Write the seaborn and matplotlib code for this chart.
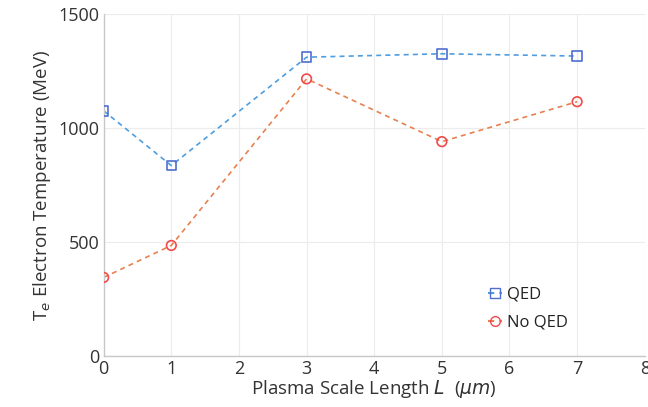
import matplotlib
matplotlib.use("Agg")
import matplotlib.pyplot as plt
import seaborn as sns
import pandas as pd
from matplotlib.lines import Line2D

# Electron temperature vs plasma scale length
scale_length = [0, 1, 3, 5, 7]
te_qed = [1075, 835, 1310, 1325, 1315]
te_no_qed = [345, 485, 1215, 940, 1115]

df = pd.concat([
    pd.DataFrame({"L": scale_length, "Te": te_qed, "case": "QED"}),
    pd.DataFrame({"L": scale_length, "Te": te_no_qed, "case": "No QED"}),
])

sns.set_theme(style="whitegrid")
plt.rcParams["font.family"] = ["Open Sans", "DejaVu Sans"]

fig = plt.figure(figsize=(6.48, 4.07), dpi=100)
ax = fig.add_axes([0.160, 0.125, 0.835, 0.841])

line_colors = {"QED": "#4d9de0", "No QED": "#e8804f"}
marker_colors = {"QED": "#4f6fd0", "No QED": "#f24a4a"}
markers = {"QED": "s", "No QED": "o"}
dash = (0, (3, 2.5))

for case in ["QED", "No QED"]:
    sub = df[df["case"] == case]
    sns.lineplot(data=sub, x="L", y="Te", ax=ax, color=line_colors[case],
                 linestyle=dash, linewidth=1.2, legend=False)
    sns.scatterplot(data=sub, x="L", y="Te", ax=ax, marker=markers[case],
                    s=48, facecolor="none", edgecolor=marker_colors[case],
                    linewidth=1.2, legend=False, zorder=4)

ax.set_xlim(0, 8)
ax.set_ylim(0, 1500)
ax.set_xticks(range(0, 9))
ax.set_yticks([0, 500, 1000, 1500])

ax.grid(True, color="#ececec", linewidth=0.8)
for side in ["top", "right"]:
    ax.spines[side].set_visible(False)
for side in ["left", "bottom"]:
    ax.spines[side].set_color("#c8c8c8")
    ax.spines[side].set_linewidth(1.0)
ax.tick_params(axis="both", colors="#333333", labelsize=13, length=0, pad=3)

ax.set_xlabel(r"Plasma Scale Length $L$  ($\mu m$)", fontsize=13.5, color="#333333", labelpad=0)
ax.set_ylabel(r"T$_e$ Electron Temperature (MeV)", fontsize=13.5, color="#333333", labelpad=4)

handles = [
    Line2D([], [], color=line_colors["QED"], linestyle=dash, marker="s",
           markerfacecolor="none", markeredgecolor=marker_colors["QED"], markersize=7),
    Line2D([], [], color=line_colors["No QED"], linestyle=dash, marker="o",
           markerfacecolor="none", markeredgecolor=marker_colors["No QED"], markersize=7),
]
leg = ax.legend(handles, ["QED", "No QED"], loc="lower right", bbox_to_anchor=(0.885, 0.03),
                frameon=False, fontsize=12, handlelength=0.8, handletextpad=0.3,
                labelspacing=0.75)
for t in leg.get_texts():
    t.set_color("#222222")

fig.savefig("out.png", dpi=100)
